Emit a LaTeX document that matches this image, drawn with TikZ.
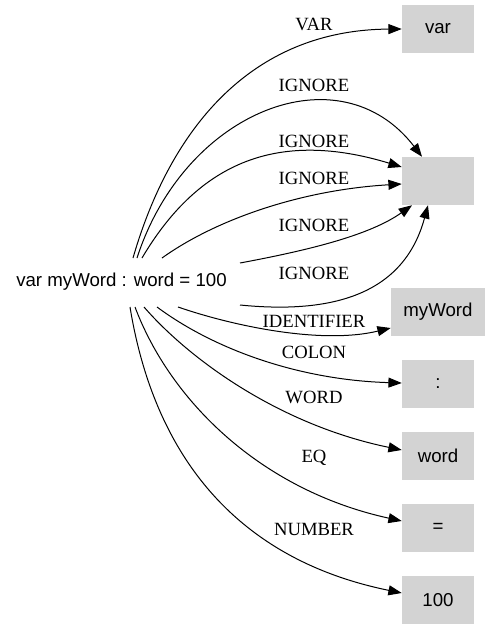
\documentclass[tikz,border=0pt]{standalone}
\usepackage{fontspec}
\setmainfont{Liberation Serif}
\newfontfamily\boxfont{Liberation Sans}
\usetikzlibrary{arrows.meta,calc}
\definecolor{boxgray}{HTML}{D3D3D3}
\begin{document}
\begin{tikzpicture}[x=0.75pt,y=-0.75pt,
  tok/.style={fill=boxgray,draw=none,minimum width=54pt,minimum height=36pt,inner sep=0pt,font=\boxfont\fontsize{14pt}{16pt}\selectfont},
  lbl/.style={font=\fontsize{14pt}{16pt}\selectfont,inner sep=0pt},
  edge/.style={line width=0.75pt,-{Triangle[length=10pt,width=7.5pt]}}]
\useasboundingbox (0,0) rectangle (491,629);
\node[font=\boxfont\fontsize{14pt}{16pt}\selectfont,inner sep=0pt] (src) at (121.5,282) {var myWord : word = 100};
\node[tok] (var) at (438,29) {var};
\node[tok] (ign) at (438,181) {};
\node[tok,minimum width=70.5pt] (myw) at (438,312) {myWord};
\node[tok] (col) at (438,384) {:};
\node[tok] (wrd) at (438,456) {word};
\node[tok] (eq) at (438,528) {=};
\node[tok] (num) at (438,600) {100};
% edges
\draw[edge] ($(src.center)+(11.5,-24)$) .. controls (170,130) and (250,30) .. (var.west);
\draw[edge] ($(src.center)+(15.5,-24)$) .. controls (185,110) and (340,50) .. ($(ign.north)+(-16,0)$);
\draw[edge] ($(src.center)+(20.5,-24)$) .. controls (200,160) and (280,130) .. ($(ign.west)+(0,-14)$);
\draw[edge] ($(src.center)+(40.5,-24)$) .. controls (215,220) and (300,190) .. ($(ign.west)+(0,3)$);
\draw[edge] ($(src.center)+(118.5,-19)$) .. controls (310,250) and (370,235) .. ($(ign.south)+(-26,0)$);
\draw[edge] ($(src.center)+(118.5,23)$) .. controls (340,315) and (405,290) .. ($(ign.south)+(-10,0)$);
\draw[edge] ($(src.center)+(56.5,25)$) .. controls (230,325) and (320,345) .. ($(myw.west)+(0,16)$);
\draw[edge] ($(src.center)+(35.5,25)$) .. controls (215,350) and (300,380) .. ($(col.west)+(0,-1)$);
\draw[edge] ($(src.center)+(22.5,25)$) .. controls (190,360) and (280,425) .. ($(wrd.west)+(0,-6)$);
\draw[edge] ($(src.center)+(13.5,25)$) .. controls (170,400) and (260,490) .. ($(eq.west)+(0,-7)$);
\draw[edge] ($(src.center)+(8.5,25)$) .. controls (155,460) and (240,560) .. ($(num.west)+(0,-7)$);
% labels
\node[lbl] (l1) at (314,24) {VAR};
\node[lbl] (l2) at (314,85) {IGNORE};
\node[lbl] (l3) at (314,141) {IGNORE};
\node[lbl] (l4) at (314,178) {IGNORE};
\node[lbl] (l5) at (314,225) {IGNORE};
\node[lbl] (l6) at (314,273) {IGNORE};
\node[lbl] (l7) at (314,321) {IDENTIFIER};
\node[lbl] (l8) at (314,352) {COLON};
\node[lbl] (l9) at (314,397) {WORD};
\node[lbl] (l10) at (314,458) {EQ};
\node[lbl] (l11) at (314,529) {NUMBER};
\end{tikzpicture}
\end{document}
